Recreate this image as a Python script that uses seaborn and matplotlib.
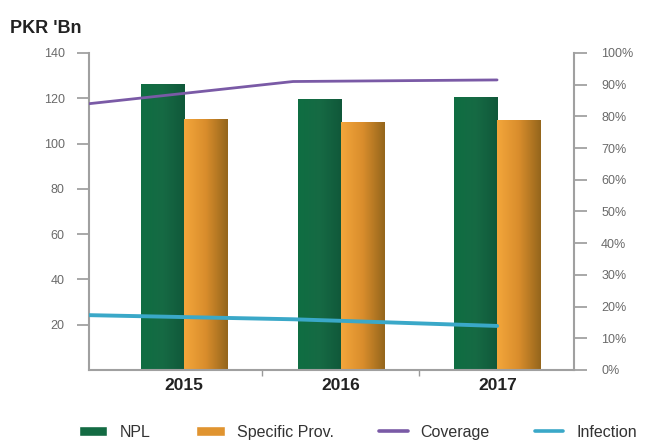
import matplotlib
matplotlib.use("Agg")
import matplotlib.pyplot as plt
from matplotlib.colors import LinearSegmentedColormap
from matplotlib.ticker import FuncFormatter
import numpy as np
import pandas as pd
import seaborn as sns

# Data
years = ["2015", "2016", "2017"]
npl = [126.5, 119.5, 120.5]
specific_prov = [111.0, 109.5, 110.5]
coverage = [84.0, 91.0, 91.5]      # % (right axis)
infection = [17.3, 16.0, 13.9]     # % (right axis)

bar_colors = {"NPL": "#136b43", "Specific Prov.": "#e09430"}
line_colors = {"Coverage": "#7a5aa6", "Infection": "#3aa8c8"}

bars = pd.DataFrame({
    "year": years * 2,
    "value": npl + specific_prov,
    "series": ["NPL"] * 3 + ["Specific Prov."] * 3,
})
lines = pd.DataFrame({
    "year": years * 2,
    "value": coverage + infection,
    "series": ["Coverage"] * 3 + ["Infection"] * 3,
})

sns.set_style("white")
plt.rcParams["font.family"] = ["Liberation Sans", "DejaVu Sans"]

fig = plt.figure(figsize=(6.48, 4.43), dpi=100)
rect = [0.1373, 0.1648, 0.7485, 0.7156]
ax = fig.add_axes(rect)

sns.barplot(data=bars, x="year", y="value", hue="series", palette=bar_colors,
            width=0.55, saturation=1, ax=ax, legend=True)

# horizontal gradient on the bars, like the original
grads = {
    "NPL": LinearSegmentedColormap.from_list("g", ["#0f6e42", "#166a44", "#10583a"]),
    "Specific Prov.": LinearSegmentedColormap.from_list("o", ["#f3a63b", "#d98d2c", "#95661c"]),
}
ax.set_xlim(-0.607, 2.49)
ax.set_ylim(0, 140)
for cont, name in zip(ax.containers, ["NPL", "Specific Prov."]):
    for p in cont:
        x0, y0 = p.get_x(), p.get_y()
        w, h = p.get_width(), p.get_height()
        im = ax.imshow(np.linspace(0, 1, 64).reshape(1, -1), cmap=grads[name],
                       extent=[x0, x0 + w, y0, y0 + h], aspect="auto", zorder=p.get_zorder())
        im.set_clip_path(p)
ax.set_xlim(-0.607, 2.49)
ax.set_ylim(0, 140)

bar_handles, bar_labels = ax.get_legend_handles_labels()
ax.get_legend().remove()

ax.set_xlabel("")
ax.set_ylabel("")
ax.set_yticks(range(20, 141, 20))
ax.tick_params(axis="y", length=8.5, width=1.2, color="#9a9a9a", pad=9,
               labelsize=9, labelcolor="#6a6a6a", left=True)
ax.tick_params(axis="x", which="major", length=0, pad=6, labelsize=12.5, labelcolor="#222222")
ax.set_xticks([0.5, 1.5], minor=True)
ax.tick_params(axis="x", which="minor", length=4, width=1, color="#9a9a9a", bottom=True)
for lbl in ax.get_xticklabels():
    lbl.set_fontweight("bold")
for s in ["top", "right"]:
    ax.spines[s].set_visible(False)
for s in ["left", "bottom"]:
    ax.spines[s].set_color("#a0a0a0")
    ax.spines[s].set_linewidth(1.5)

# secondary axes for the percentage lines
ax2 = fig.add_axes(rect)
ax2.patch.set_alpha(0)
sns.lineplot(data=lines, x="year", y="value", hue="series", palette=line_colors,
             ax=ax2, legend=True, linewidth=2.4)
ax2.set_xlim(0, 2.377)
ax2.set_ylim(0, 100)
for ln, lw in zip(ax2.get_lines()[:2], [2.0, 2.8]):
    ln.set_linewidth(lw)
line_handles, line_labels = ax2.get_legend_handles_labels()
ax2.get_legend().remove()
ax2.set_xlabel("")
ax2.set_ylabel("")
ax2.xaxis.set_visible(False)
ax2.yaxis.tick_right()
ax2.set_yticks(range(0, 101, 10))
ax2.yaxis.set_major_formatter(FuncFormatter(lambda v, _: f"{v:.0f}%"))
ax2.tick_params(axis="y", length=9.5, width=1.2, color="#9a9a9a", pad=10,
                labelsize=9, labelcolor="#6a6a6a", right=True, left=False)
ax2.spines["right"].set_visible(True)
ax2.spines["right"].set_color("#a0a0a0")
ax2.spines["right"].set_linewidth(1.5)
for s in ["top", "left", "bottom"]:
    ax2.spines[s].set_visible(False)

fig.text(0.015, 0.955, "PKR 'Bn", fontsize=13, fontweight="bold", color="#222222",
         va="top", ha="left")

leg = fig.legend(bar_handles + line_handles, bar_labels + line_labels,
                 loc="lower center", bbox_to_anchor=(0.552, -0.025), ncol=4, frameon=False,
                 fontsize=11.5, handlelength=1.8, handleheight=0.6, handletextpad=0.8,
                 columnspacing=2.8, labelcolor="#333333")
for h in leg.legend_handles[2:]:
    h.set_linewidth(2.6)

fig.savefig("out.png", dpi=100)
